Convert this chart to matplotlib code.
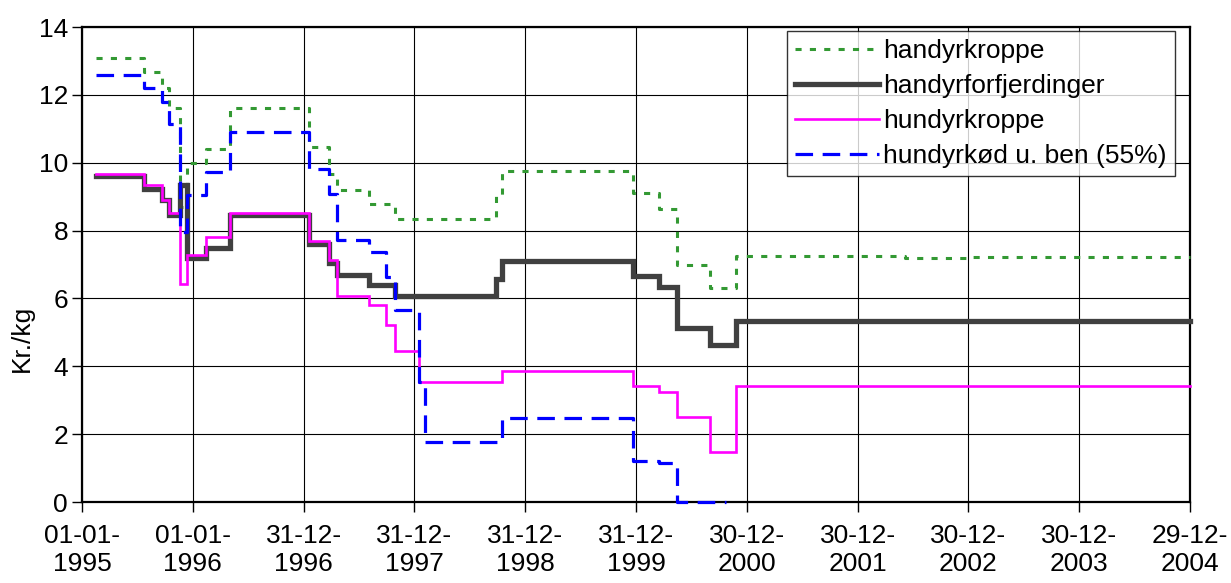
import matplotlib
matplotlib.use("Agg")
import matplotlib.pyplot as plt
import pandas as pd

plt.rcParams['font.family'] = ['Liberation Sans', 'DejaVu Sans']

# ---------------- data ----------------
tick_dates = ["1995-01-01", "1996-01-01", "1996-12-31", "1997-12-31", "1998-12-31",
              "1999-12-31", "2000-12-30", "2001-12-30", "2002-12-30", "2003-12-30",
              "2004-12-29"]
tick_labels = ["01-01-\n1995", "01-01-\n1996", "31-12-\n1996", "31-12-\n1997",
               "31-12-\n1998", "31-12-\n1999", "30-12-\n2000", "30-12-\n2001",
               "30-12-\n2002", "30-12-\n2003", "29-12-\n2004"]

handyrkroppe_dates = ["1995-02-15", "1995-07-24", "1995-09-23", "1995-10-15", "1995-11-20",
                      "1995-12-12", "1996-02-12", "1996-05-02", "1997-01-18", "1997-03-26",
                      "1997-04-19", "1997-08-03", "1997-10-27", "1998-09-26", "1998-10-16",
                      "1999-12-20", "2000-03-17", "2000-05-13", "2000-09-01", "2000-11-26",
                      "2002-06-05", "2002-12-21", "2004-12-29"]
handyrkroppe = [13.08, 12.67, 12.19, 11.6, 8.7, 9.98, 10.4, 11.6, 10.45, 9.66,
                9.19, 8.77, 8.34, 9.06, 9.75, 9.1, 8.65, 7.0, 6.3, 7.25,
                7.19, 7.23, 7.23]

handyrforfj_dates = ["1995-02-15", "1995-07-24", "1995-09-23", "1995-10-15", "1995-11-20",
                     "1995-12-12", "1996-02-12", "1996-05-02", "1997-01-18", "1997-03-26",
                     "1997-04-19", "1997-08-03", "1997-10-27", "1998-09-26", "1998-10-16",
                     "1999-12-20", "2000-03-17", "2000-05-13", "2000-09-01", "2000-11-26",
                     "2004-12-29"]
handyrforfj = [9.6, 9.24, 8.9, 8.46, 9.34, 7.18, 7.5, 8.46, 7.6, 7.03,
               6.69, 6.39, 6.07, 6.57, 7.1, 6.66, 6.34, 5.13, 4.62, 5.33,
               5.33]

hundyrkroppe_dates = ["1995-02-15", "1995-07-24", "1995-09-23", "1995-10-15", "1995-11-20",
                      "1995-12-12", "1996-02-12", "1996-05-02", "1997-01-18", "1997-03-26",
                      "1997-04-19", "1997-08-03", "1997-09-29", "1997-10-27", "1998-01-16",
                      "1998-10-16", "1999-12-20", "2000-03-17", "2000-05-13", "2000-09-01",
                      "2000-11-26", "2004-12-29"]
hundyrkroppe = [9.66, 9.34, 8.9, 8.53, 6.42, 7.27, 7.82, 8.53, 7.68, 7.12,
                6.07, 5.8, 5.23, 4.46, 3.54, 3.85, 3.41, 3.23, 2.51, 1.47,
                3.42, 3.42]

hundyrkoed_dates = ["1995-02-15", "1995-07-24", "1995-09-23", "1995-10-15", "1995-11-20",
                    "1995-12-12", "1996-02-12", "1996-05-02", "1997-01-18", "1997-03-26",
                    "1997-04-19", "1997-08-03", "1997-09-29", "1997-10-27", "1998-01-16",
                    "1998-02-04", "1998-10-16", "1999-12-20", "2000-03-17", "2000-05-13",
                    "2000-10-23"]
hundyrkoed = [12.59, 12.19, 11.8, 11.15, 7.96, 9.05, 9.73, 10.9, 9.81, 9.07,
              7.73, 7.38, 6.64, 5.65, 3.54, 1.77, 2.49, 1.2, 1.15, 0.0,
              0.0]

series_labels = ["handyrkroppe", "handyrforfjerdinger", "hundyrkroppe", "hundyrkød u. ben (55%)"]
y_label = "Kr./kg"

# ---------------- figure ----------------
W, H = 1231, 583
fig = plt.figure(figsize=(W / 100, H / 100), dpi=100)
L, R, T, B = 82, 1190, 27, 502
ax = fig.add_axes([L / W, 1 - B / H, (R - L) / W, (B - T) / H])

FS = 19

ax.plot(pd.to_datetime(handyrkroppe_dates), handyrkroppe, drawstyle='steps-post',
        color='#339933', lw=2.2, linestyle=(0, (2.0, 2.7)), label=series_labels[0],
        clip_on=False, zorder=3)
ax.plot(pd.to_datetime(handyrforfj_dates), handyrforfj, drawstyle='steps-post',
        color='#404040', lw=3.8, label=series_labels[1], clip_on=False, zorder=4,
        solid_joinstyle='miter')
ax.plot(pd.to_datetime(hundyrkroppe_dates), hundyrkroppe, drawstyle='steps-post',
        color='#FF00FF', lw=1.9, label=series_labels[2], clip_on=False, zorder=5,
        solid_joinstyle='miter')
ax.plot(pd.to_datetime(hundyrkoed_dates), hundyrkoed, drawstyle='steps-post',
        color='#0000FF', lw=2.3, linestyle=(0, (5.5, 3.0)), label=series_labels[3],
        clip_on=False, zorder=6)

ax.set_xlim(pd.Timestamp(tick_dates[0]), pd.Timestamp(tick_dates[-1]))
ax.set_ylim(0, 14)
ax.set_yticks(range(0, 15, 2))
ax.set_xticks(pd.to_datetime(tick_dates))
ax.set_xticklabels(tick_labels, fontsize=FS, linespacing=1.2)
ax.tick_params(axis='y', labelsize=FS, direction='out', length=7, width=1, pad=3)
ax.tick_params(axis='x', direction='out', length=7, width=1, pad=9)

ax.grid(True, color='black', lw=0.8)
ax.set_axisbelow(True)
for s in ax.spines.values():
    s.set_linewidth(1.6)
    s.set_color('black')

fig.text(22 / W, 1 - 338 / H, y_label, rotation=90, ha='center', va='center', fontsize=FS)

leg = ax.legend(loc='upper left', bbox_to_anchor=(787 / W, 1 - 31 / H),
                bbox_transform=fig.transFigure, fontsize=FS, frameon=True,
                fancybox=False, borderaxespad=0, borderpad=0.3, labelspacing=0.42,
                handlelength=3.2, handletextpad=0.15)
leg.get_frame().set_edgecolor('black')
leg.get_frame().set_linewidth(1.0)

fig.savefig("out.png", dpi=100)
